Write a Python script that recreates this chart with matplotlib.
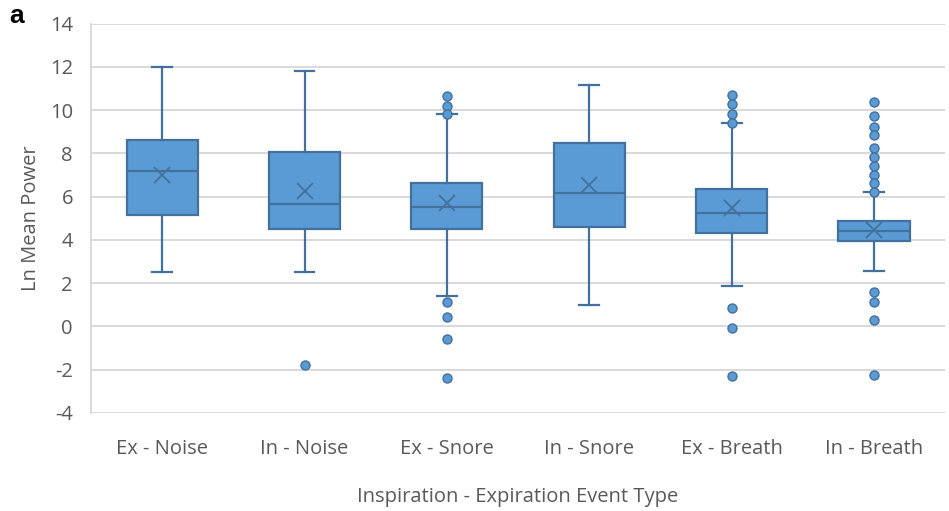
import matplotlib
matplotlib.use("Agg")
import matplotlib.pyplot as plt

plt.rcParams['font.family'] = ['Open Sans', 'DejaVu Sans']
plt.rcParams['axes.unicode_minus'] = False

# Box plot summary values (Ln mean power) for each event type
categories = ["Ex - Noise", "In - Noise", "Ex - Snore", "In - Snore", "Ex - Breath", "In - Breath"]
whislo = [2.52, 2.52, 1.42, 0.99, 1.89, 2.58]
q1 = [5.17, 4.51, 4.51, 4.59, 4.31, 3.94]
med = [7.20, 5.66, 5.54, 6.17, 5.23, 4.42]
q3 = [8.60, 8.08, 6.63, 8.46, 6.35, 4.85]
whishi = [12.00, 11.81, 9.80, 11.15, 9.41, 6.23]
means = [7.00, 6.28, 5.72, 6.54, 5.46, 4.46]
outliers = [
    [],
    [-1.77],
    [10.65, 10.18, 9.80, 1.11, 0.42, -0.58, -2.40],
    [],
    [10.71, 10.28, 9.82, 9.41, 0.86, -0.05, -2.29],
    [10.37, 9.74, 9.23, 8.83, 8.26, 7.82, 7.42, 7.01, 6.65, 6.23,
     1.60, 1.13, 0.28, -2.24],
]

fill = '#5B9BD5'
edge = '#41719C'
text_col = '#595959'
grid_col = '#D9D9D9'

stats = []
for i, name in enumerate(categories):
    stats.append(dict(label=name, whislo=whislo[i], q1=q1[i], med=med[i],
                      q3=q3[i], whishi=whishi[i], mean=means[i],
                      fliers=outliers[i]))

fig = plt.figure(figsize=(9.49, 5.11), dpi=100)
ax = fig.add_axes([0.0959, 0.1918, 0.90, 0.7622])

ax.bxp(stats, positions=range(1, 7), widths=0.5, patch_artist=True,
       showmeans=True, showfliers=True,
       boxprops=dict(facecolor=fill, edgecolor=edge, linewidth=1.6),
       medianprops=dict(color=edge, linewidth=1.6),
       whiskerprops=dict(color=edge, linewidth=1.6),
       capprops=dict(color=edge, linewidth=1.6),
       capwidths=0.14,
       meanprops=dict(marker='x', markersize=11, markeredgecolor=edge,
                      markeredgewidth=1.3),
       flierprops=dict(marker='o', markersize=6.5, markerfacecolor=fill,
                       markeredgecolor=edge, markeredgewidth=1.0))

ax.set_xlim(0.5, 6.5)
ax.set_ylim(-4, 14)
ax.set_yticks(range(-4, 15, 2))
ax.yaxis.grid(True, color=grid_col, linewidth=1.4)
ax.set_axisbelow(True)

for side in ['top', 'right', 'bottom']:
    ax.spines[side].set_visible(False)
ax.spines['left'].set_color(grid_col)
ax.spines['left'].set_linewidth(1.4)

ax.tick_params(axis='both', length=0, labelsize=14.5, labelcolor=text_col)
ax.tick_params(axis='y', pad=13)
ax.tick_params(axis='x', pad=19)

ax.set_xlabel('Inspiration - Expiration Event Type', fontsize=14.5,
              color=text_col, labelpad=20)
ax.set_ylabel('Ln Mean Power', fontsize=14.5, color=text_col, labelpad=6)

fig.text(0.010, 0.968, 'a', fontsize=19, fontweight='bold',
         family='Liberation Sans', va='center')

fig.savefig('out.png', dpi=100)
